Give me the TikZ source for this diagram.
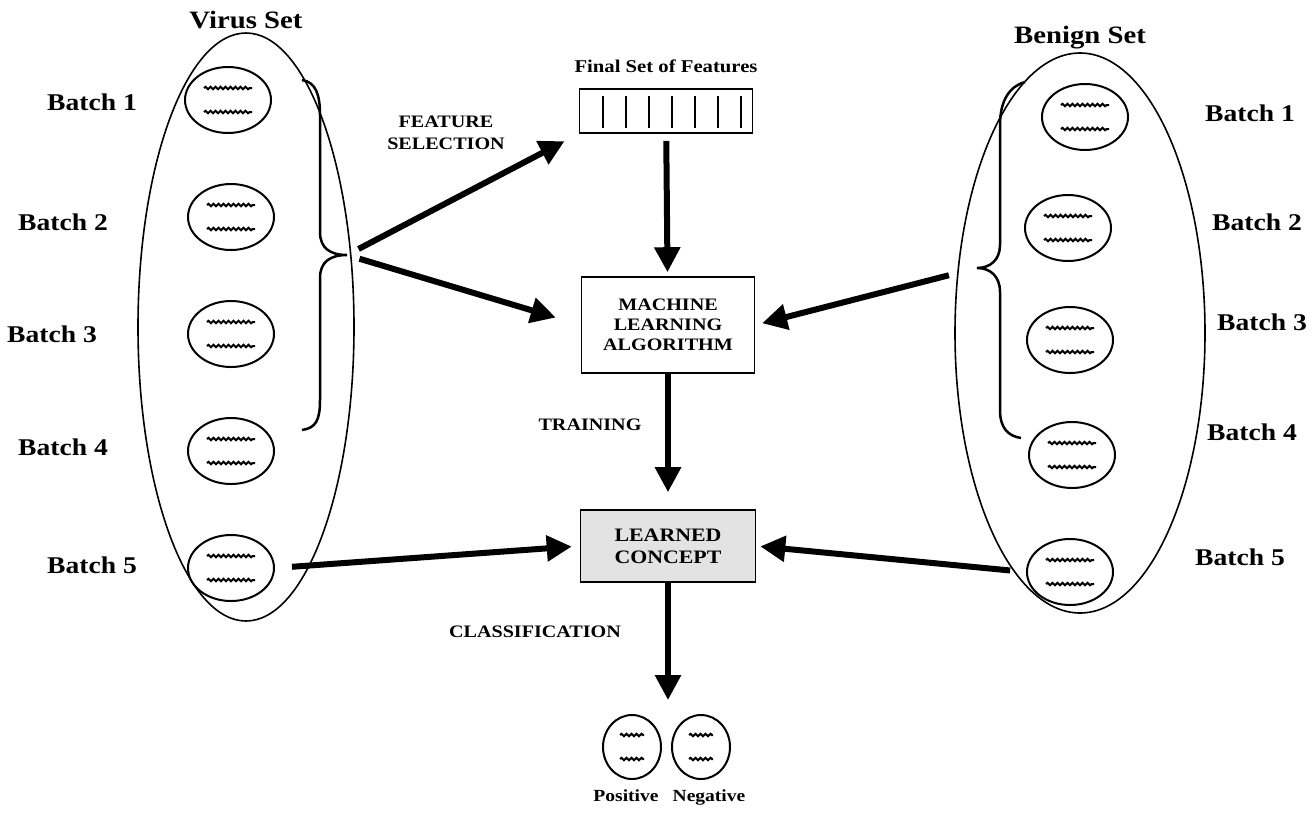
\documentclass[tikz,border=0pt]{standalone}
\usepackage{fontspec}
\setmainfont[FakeStretch=1.15]{Liberation Serif}
\usetikzlibrary{positioning, arrows.meta, shapes.geometric, decorations.pathmorphing}

\begin{document}
\begin{tikzpicture}[x=1pt,y=-1pt,node distance=117pt]
\tikzstyle{every node}=[font=\bfseries]
\tikzstyle{set}=[draw, ellipse, line width=1.6pt]
\tikzstyle{batch}=[draw, ellipse, line width=2pt, minimum width=86pt, minimum height=66pt]
\tikzstyle{result}=[draw, ellipse, line width=2pt, minimum width=58pt, minimum height=64pt]
\tikzstyle{box}=[draw, line width=1.6pt, align=center, font=\bfseries\fontsize{17.5}{20}\selectfont]
\tikzstyle{title}=[font=\bfseries\fontsize{25}{27}\selectfont]
\tikzstyle{lbl}=[font=\bfseries\fontsize{24}{26}\selectfont]
\tikzstyle{stagelbl}=[align=center, font=\bfseries\fontsize{17.5}{22}\selectfont]
\tikzstyle{arr}=[line width=6pt, -{Triangle[length=25pt,width=25pt]}]
\tikzstyle{wave}=[line width=2pt, decorate, decoration={snake, amplitude=1.2pt, segment length=5pt}]
\tikzstyle{brace}=[line width=2.5pt]

\useasboundingbox (0,0) rectangle (1316,823);

% the two sets
\node[set, minimum width=216pt, minimum height=588pt] (VS) at (246,327) {};
\node[set, minimum width=250pt, minimum height=560pt] (BS) at (1080,333) {};
\node[title, above=0pt of VS] {Virus Set};
\node[title, above=0pt of BS] {Benign Set};

% batches
\node[batch] (V1) at (228,100) {};
\node[batch, below of=V1, xshift=3pt] (V2) {};
\node[batch, below of=V2] (V3) {};
\node[batch, below of=V3] (V4) {};
\node[batch, below of=V4] (V5) {};
\node[batch] (B1) at (1085,117) {};
\node[batch] (B2) at (1068,228) {};
\node[batch] (B3) at (1070,340) {};
\node[batch] (B4) at (1072,455) {};
\node[batch] (B5) at (1070,572) {};
\foreach \n in {V1,V2,V3,V4,V5,B1,B2,B3,B4,B5} {
  \draw[wave] ([xshift=-24pt,yshift=12pt]\n.center) -- ([xshift=24pt,yshift=12pt]\n.center);
  \draw[wave] ([xshift=-24pt,yshift=-12pt]\n.center) -- ([xshift=24pt,yshift=-12pt]\n.center);
}

\node[lbl] at (92,102) {Batch 1};
\node[lbl] at (63,222) {Batch 2};
\node[lbl] at (52,334) {Batch 3};
\node[lbl] at (63,447) {Batch 4};
\node[lbl] at (92,565) {Batch 5};
\node[lbl] at (1250,113) {Batch 1};
\node[lbl] at (1257,222) {Batch 2};
\node[lbl] at (1262,322) {Batch 3};
\node[lbl] at (1252,432) {Batch 4};
\node[lbl] at (1240,557) {Batch 5};

% braces
\coordinate (Lt) at (347,255);
\coordinate (Rt) at (977,268);
\draw[brace] (302,80) .. controls (316,82) and (320,95) .. (320,115) -- (320,232)
  .. controls (320,248) and (330,255) .. (Lt) .. controls (330,255) and (320,262) .. (320,278)
  -- (320,400) .. controls (320,420) and (316,428) .. (302,430);
\draw[brace] (1025,82) .. controls (1010,86) and (1000,100) .. (1000,125) -- (1000,245)
  .. controls (1000,260) and (990,268) .. (Rt) .. controls (990,268) and (1000,276) .. (1000,292)
  -- (1000,410) .. controls (1000,428) and (1008,436) .. (1021,438);

% middle column
\node[draw, line width=1.6pt, minimum width=173pt, minimum height=44pt] (FS) at (666,111) {};
\foreach \i in {0,...,6}
  \draw[line width=1.6pt] (603+23*\i,96) -- (603+23*\i,128);
\node[font=\bfseries\fontsize{18}{20}\selectfont, above=12pt of FS] {Final Set of Features};
\node[box, minimum width=173pt, minimum height=96pt] (ML) at (668,325) {MACHINE\\LEARNING\\ALGORITHM};
\node[box, fill=gray!22, minimum width=175pt, minimum height=72pt,
  font=\bfseries\fontsize{19}{22}\selectfont] (LC) at (668,546) {LEARNED\\CONCEPT};
\node[result] (P) at (632,747) {};
\node[result] (N) at (701,747) {};
\foreach \n in {P,N} {
  \draw[wave] ([xshift=-12pt,yshift=12pt]\n.center) -- ([xshift=12pt,yshift=12pt]\n.center);
  \draw[wave] ([xshift=-12pt,yshift=-12pt]\n.center) -- ([xshift=12pt,yshift=-12pt]\n.center);
}
\node[font=\bfseries\fontsize{17}{19}\selectfont, below=6pt of P, xshift=-6pt] {Positive};
\node[font=\bfseries\fontsize{17}{19}\selectfont, below=6pt of N, xshift=8pt] {Negative};
\coordinate (PN) at (668,700);

% arrows
\draw[arr, shorten <=13pt, shorten >=16pt] (Lt) -- (FS.south west);
\draw[arr, shorten <=13pt, shorten >=26pt] (Lt) -- (ML.west);
\draw[arr, shorten <=29pt, shorten >=7pt] (Rt) -- (ML.east);
\draw[arr, shorten <=17pt, shorten >=8pt] (V5.east) -- (LC.west);
\draw[arr, shorten <=16pt, shorten >=4pt] (B5.west) -- (LC.east);
\draw[arr, shorten <=7pt, shorten >=4pt] (FS) -- (ML);
\draw[arr, shorten >=17pt] (ML) -- (LC);
\draw[arr] (LC) -- (PN);

\node[stagelbl] at (446,133) {FEATURE\\SELECTION};
\node[stagelbl] at (590,425) {TRAINING};
\node[stagelbl] at (535,632) {CLASSIFICATION};
\end{tikzpicture}
\end{document}
